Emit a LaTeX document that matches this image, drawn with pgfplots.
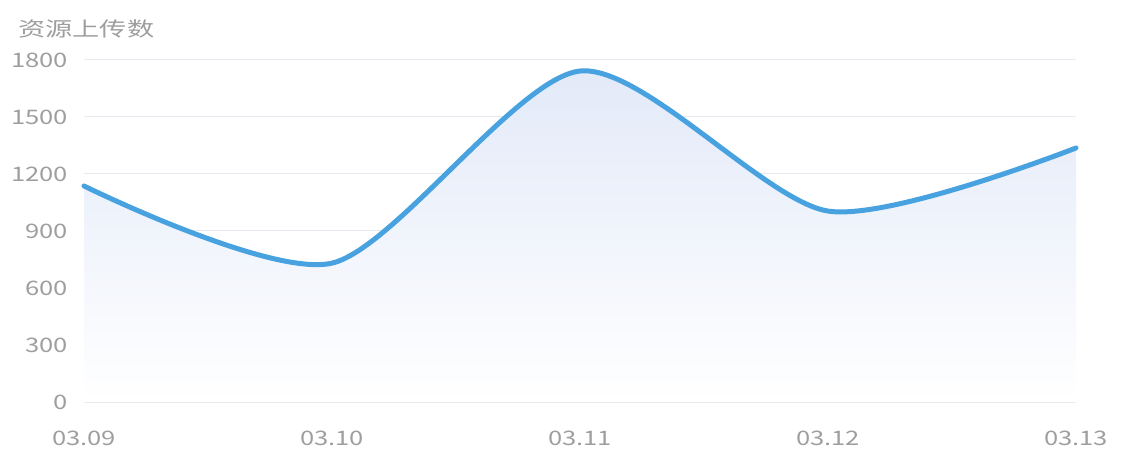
\documentclass[border=0pt]{standalone}
\usepackage{fontspec}
\setmainfont{Noto Sans CJK SC}
\usepackage{pgfplots}
\pgfplotsset{compat=1.18}
\definecolor{linec}{HTML}{48A2E0}
\definecolor{gridc}{HTML}{E6E9EF}
\definecolor{textc}{HTML}{9E9E9E}
\definecolor{fillc}{HTML}{E2E9F8}

\begin{document}
\begin{tikzpicture}[x=1pt,y=1pt]
\path (0,0) rectangle (1128,461);
\node[anchor=north west, inner sep=0pt, text=textc, xscale=1.36,
      font=\fontsize{20}{24}\selectfont] at (18,442) {资源上传数};
\begin{axis}[
  at={(84pt,59pt)}, anchor=south west,
  width=992pt, height=342pt, scale only axis,
  xmin=0, xmax=4, ymin=0, ymax=1800,
  xtick={0,...,4},
  xticklabels={03.09,03.10,03.11,03.12,03.13},
  ytick={0,300,...,1800},
  yticklabel style={/pgf/number format/1000 sep={}},
  axis line style={draw=none},
  major tick length=0pt,
  ymajorgrids, grid style={gridc, line width=1pt},
  tick label style={text=textc, font=\fontsize{20}{24}\selectfont, xscale=1.28},
  /pgf/number format/assume math mode=true,
  yticklabel style={xshift=-9pt},
  xticklabel style={yshift=-25pt},
  clip=false,
]
% gradient area under the curve
\addplot[draw=none, smooth, tension=0.45, top color=fillc, bottom color=white]
  coordinates {(0,1137) (1,731) (2,1742) (3,1005) (4,1337)} \closedcycle;
% the line
\addplot[linec, line width=5pt, smooth, tension=0.45, line cap=round]
  coordinates {(0,1137) (1,731) (2,1742) (3,1005) (4,1337)};
\end{axis}
\end{tikzpicture}
\end{document}
